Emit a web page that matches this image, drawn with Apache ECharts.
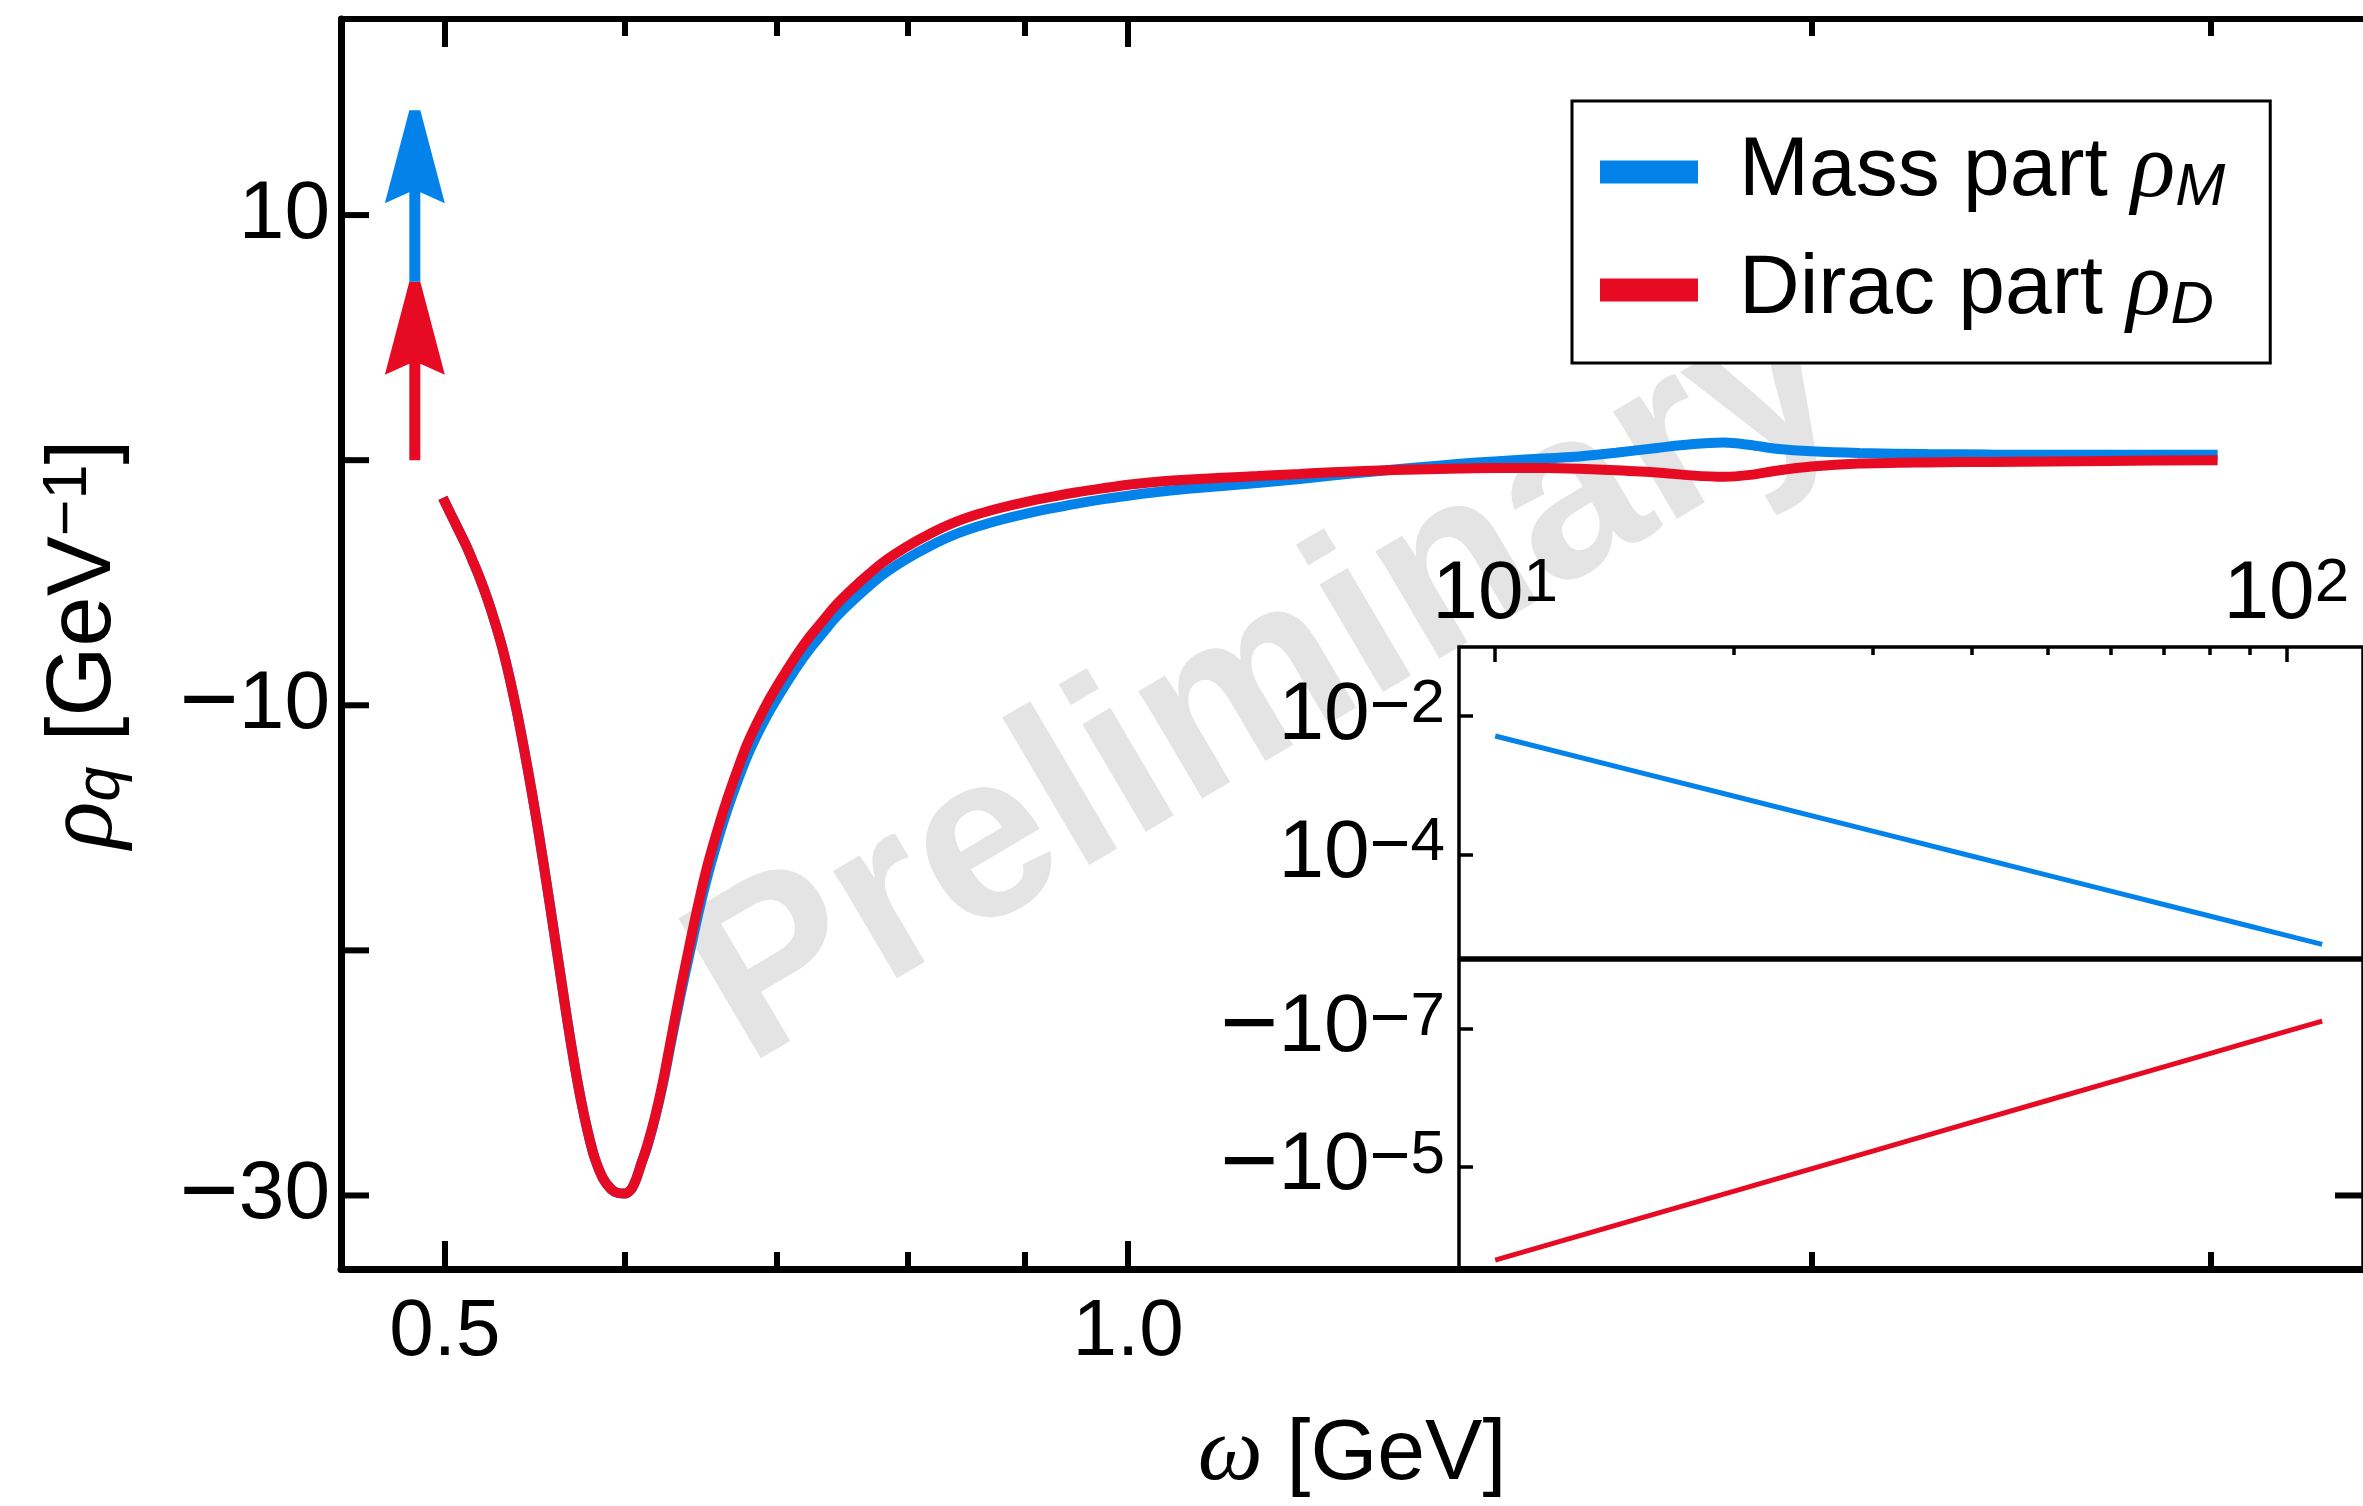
<!DOCTYPE html>
<html><head><meta charset="utf-8">
<script src="https://cdn.jsdelivr.net/npm/echarts@6/dist/echarts.min.js"></script>
<style>html,body{margin:0;padding:0;background:#fff}#c{width:2363px;height:1506px}</style>
</head><body><div id="c"></div>
<script>
// ---------------- data ----------------
const omega = [0.499,0.503,0.507,0.511,0.514,0.518,0.522,0.526,0.530,0.534,
  0.538,0.542,0.546,0.550,0.554,0.558,0.562,0.566,0.570,0.574,
  0.578,0.582,0.587,0.592,0.596,0.600,0.604,0.607,0.610,0.614,
  0.619,0.624,0.629,0.635,0.641,0.647,0.653,0.660,0.666,0.673,
  0.679,0.686,0.693,0.700,0.707,0.715,0.724,0.733,0.742,0.751,
  0.760,0.779,0.798,0.818,0.838,0.859,0.880,0.902,0.925,0.948,
  0.974,1.0,1.03,1.06,1.10,1.14,1.19,1.23,1.28,1.34,
  1.40,1.45,1.53,1.58,1.64,1.71,1.77,1.83,1.88,1.93,
  2.0,2.1,2.25,2.4,2.7,3.02];
const rhoD = [-1.54,-2.2,-2.85,-3.5,-4.05,-4.8,-5.65,-6.6,-7.65,-8.9,
  -10.3,-11.85,-13.5,-15.25,-17.1,-19.0,-20.9,-22.8,-24.55,-26.1,
  -27.4,-28.45,-29.3,-29.75,-29.9,-29.92,-29.75,-29.35,-28.75,-27.95,
  -26.75,-25.3,-23.6,-21.6,-19.75,-18.0,-16.45,-14.95,-13.8,-12.6,
  -11.65,-10.75,-9.95,-9.25,-8.6,-7.9,-7.2,-6.6,-6.0,-5.5,
  -5.05,-4.2,-3.55,-3.0,-2.55,-2.2,-1.93,-1.7,-1.5,-1.32,
  -1.15,-1.0,-0.88,-0.8,-0.72,-0.65,-0.56,-0.49,-0.43,-0.38,
  -0.34,-0.32,-0.32,-0.35,-0.41,-0.5,-0.62,-0.68,-0.6,-0.43,
  -0.26,-0.14,-0.09,-0.07,-0.03,0.0];
const rhoM = [-1.54,-2.2,-2.85,-3.5,-4.05,-4.8,-5.65,-6.6,-7.65,-8.9,
  -10.3,-11.85,-13.5,-15.25,-17.1,-19.0,-20.9,-22.8,-24.55,-26.1,
  -27.4,-28.45,-29.3,-29.75,-29.9,-29.92,-29.75,-29.35,-28.75,-28.0,
  -26.8,-25.4,-23.75,-21.85,-20.1,-18.4,-16.9,-15.4,-14.25,-13.07,
  -12.15,-11.25,-10.45,-9.75,-9.1,-8.4,-7.7,-7.1,-6.5,-6.0,
  -5.55,-4.7,-4.05,-3.5,-3.05,-2.7,-2.42,-2.18,-1.97,-1.78,
  -1.6,-1.45,-1.3,-1.18,-1.05,-0.93,-0.77,-0.63,-0.47,-0.3,
  -0.15,-0.05,0.08,0.15,0.3,0.5,0.65,0.72,0.62,0.47,
  0.36,0.29,0.25,0.23,0.22,0.22];
// delta-peak arrows: [omega, from, to]
const arrowD = [0.485, 0, 7.28];
const arrowM = [0.485, 7.28, 14.28];
// inset (large omega tail)
const tailOmega = [10,11,15,20,30,40,50,60,70,80,90,100,111];
const tailRhoM = [5.15e-3,3.91e-3,1.60e-3,6.98e-4,2.17e-4,9.45e-5,4.97e-5,2.94e-5,1.88e-5,1.28e-5,9.12e-6,6.73e-6,4.98e-6];
const tailRhoD = [-2.28e-4,-1.66e-4,-5.92e-5,-2.28e-5,-5.93e-6,-2.28e-6,-1.087e-6,-5.93e-7,-3.56e-7,-2.28e-7,-1.545e-7,-1.09e-7,-7.70e-8];
// ticks
const xRange = [0.45, 3.5];
const yRange = [-33, 18];
const xMajorTicks = [0.5, 1.0];
const xMajorLabels = ['0.5', '1.0'];
const xMinorTicks = [0.6, 0.7, 0.8, 0.9, 2, 3];
const yTicks = [10, 0, -10, -20, -30];
const yLabels = [10, -10, -30];
const yRightTicks = [-30];
const insetXMajor = [10, 100];
const insetXMinor = [20, 30, 40, 50, 60, 70, 80, 90];
const insetUpperTicks = [1e-2, 1e-4];
const insetLowerTicks = [-1e-7, -1e-5];

// ---------------- layout / style ----------------
const lg = Math.log10;
const SANS = '"Liberation Sans", Arial, Helvetica, sans-serif';
const SERIF = '"Liberation Serif", "Times New Roman", serif';
const BLUE = '#0383EA', RED = '#E60A23';
const L = 341, R = 2373, T = 19, B = 1275;
const IL = 1459, IT1 = 647, IH1 = 311, IT2 = 960, IH2 = 310;
const MINUS = '\u2212';
const TICK_LEN = 28;

const near = (a, b) => Math.abs(a - b) < 1e-6;
const powLabel = v => {
  const e = Math.round(lg(Math.abs(v)));
  return (v < 0 ? '{m|' + MINUS + '}' : '') + '{b|10}' + (e < 0 ? '{q|' + MINUS + '}' : '') + '{p|' + Math.abs(e) + '}';
};
const richPow = {
  m: {fontFamily: SANS, fontSize: 100, lineHeight: 84, color: '#000'},
  b: {fontFamily: SANS, fontSize: 82, lineHeight: 84, color: '#000'},
  q: {fontFamily: SANS, fontSize: 70, lineHeight: 22, verticalAlign: 'top', color: '#000'},
  p: {fontFamily: SANS, fontSize: 62, lineHeight: 30, verticalAlign: 'top', color: '#000'}
};

const chart = echarts.init(document.getElementById('c'), null, {renderer: 'canvas'});

function arrowRender(params, api) {
  const x = api.value(0), y0 = api.value(1), y1 = api.value(2);
  const b = api.coord([x, y0]), t = api.coord([x, y1]);
  const hw = 5.5, HW = 30, HL = 93, NL = 82;
  const cx = t[0], ty = t[1], by = b[1];
  return {
    type: 'polygon',
    shape: {points: [[cx - hw, ty], [cx + hw, ty], [cx + HW, ty + HL], [cx + hw, ty + NL], [cx + hw, by], [cx - hw, by], [cx - hw, ty + NL], [cx - HW, ty + HL]]},
    style: {fill: api.visual('color')}
  };
}
// inward y ticks on the frame edges (dir = +1 from left edge, -1 from right edge)
function yTickRender(dir) {
  return function (params, api) {
    const p = api.coord([api.value(0), api.value(1)]);
    return {type: 'line', shape: {x1: p[0], y1: p[1], x2: p[0] + dir * TICK_LEN, y2: p[1]},
      style: {stroke: '#000', lineWidth: 6}};
  };
}

const axisBase = {
  axisLine: {onZero: false},
  splitLine: {show: false},
  minorTick: {show: false}
};

const option = {
  animation: false,
  backgroundColor: '#fff',
  graphic: [{
    type: 'text', x: 1268, y: 684, rotation: 30.5 * Math.PI / 180, z: -10,
    style: {text: 'Preliminary', fontFamily: SANS, fontWeight: 'bold', fontSize: 236, fill: '#e4e4e4',
      align: 'center', verticalAlign: 'middle', textAlign: 'center', textVerticalAlign: 'middle'}
  }],
  grid: [
    {left: L, top: T, width: R - L, height: B - T},
    {left: IL, top: IT1, width: R - IL, height: IH1, show: true, backgroundColor: '#fff', borderColor: '#000', borderWidth: 3.5},
    {left: IL, top: IT2, width: R - IL, height: IH2, show: true, backgroundColor: '#fff', borderColor: '#000', borderWidth: 3.5}
  ],
  legend: {
    data: ['Mass part ρM', 'Dirac part ρD'],
    orient: 'vertical', left: 1572, top: 101,
    padding: [25, 45, 27, 28],
    itemGap: 26, itemWidth: 98, itemHeight: 23, icon: 'rect',
    borderColor: '#000', borderWidth: 3, backgroundColor: '#fff',
    selectedMode: false,
    formatter: name => {
      const parts = name.split(' ρ');
      return '{t|' + parts[0] + ' }{r|ρ}{s|' + parts[1] + '}';
    },
    textStyle: {
      rich: {
        t: {fontFamily: SANS, fontSize: 84, lineHeight: 92, color: '#000', padding: [0, 0, 0, 36]},
        r: {fontFamily: SERIF, fontStyle: 'italic', fontSize: 92, lineHeight: 92, color: '#000'},
        s: {fontFamily: SANS, fontStyle: 'italic', fontSize: 60, lineHeight: 44, verticalAlign: 'bottom', color: '#000'}
      }
    }
  },
  xAxis: [
    // 0: main bottom, major ticks + labels + title
    Object.assign({}, axisBase, {
      type: 'value', gridIndex: 0, position: 'bottom', min: lg(xRange[0]), max: lg(xRange[1]), z: 6,
      axisLine: {onZero: false, lineStyle: {color: '#000', width: 7}},
      axisTick: {inside: true, length: TICK_LEN, lineStyle: {color: '#000', width: 6}, customValues: xMajorTicks.map(lg)},
      axisLabel: {customValues: xMajorTicks.map(lg), margin: 24, fontFamily: SANS, fontSize: 80, color: '#000',
        formatter: v => xMajorLabels[xMajorTicks.findIndex(t => near(lg(t), v))]},
      name: '{w|ω}{sp| }{t|[GeV]}', nameLocation: 'middle', nameGap: 140,
      nameTextStyle: {rich: {
        w: {fontFamily: SERIF, fontStyle: 'italic', fontSize: 92, lineHeight: 92, color: '#000'},
        sp: {fontFamily: SANS, fontSize: 86, lineHeight: 92},
        t: {fontFamily: SANS, fontSize: 86, lineHeight: 92, color: '#000'}
      }}
    }),
    // 1: main bottom minor ticks
    Object.assign({}, axisBase, {
      type: 'value', gridIndex: 0, position: 'bottom', min: lg(xRange[0]), max: lg(xRange[1]), z: 6,
      axisLine: {show: false, onZero: false},
      axisTick: {inside: true, length: 17, lineStyle: {color: '#000', width: 6}, customValues: xMinorTicks.map(lg)},
      axisLabel: {show: false}
    }),
    // 2: main top major (mirror)
    Object.assign({}, axisBase, {
      type: 'value', gridIndex: 0, position: 'top', min: lg(xRange[0]), max: lg(xRange[1]),
      axisLine: {onZero: false, lineStyle: {color: '#000', width: 6}},
      axisTick: {inside: true, length: TICK_LEN, lineStyle: {color: '#000', width: 6}, customValues: xMajorTicks.map(lg)},
      axisLabel: {show: false}
    }),
    // 3: main top minor (mirror)
    Object.assign({}, axisBase, {
      type: 'value', gridIndex: 0, position: 'top', min: lg(xRange[0]), max: lg(xRange[1]),
      axisLine: {show: false, onZero: false},
      axisTick: {inside: true, length: 17, lineStyle: {color: '#000', width: 6}, customValues: xMinorTicks.map(lg)},
      axisLabel: {show: false}
    }),
    // 4: inset top major
    Object.assign({}, axisBase, {
      type: 'value', gridIndex: 1, position: 'top', min: lg(9), max: lg(125),
      axisLine: {show: false, onZero: false},
      axisTick: {inside: true, length: 15, lineStyle: {color: '#000', width: 3.5}, customValues: insetXMajor.map(lg)},
      axisLabel: {customValues: insetXMajor.map(lg), margin: 10, rich: richPow,
        formatter: v => powLabel(Math.pow(10, v))}
    }),
    // 5: inset top minor
    Object.assign({}, axisBase, {
      type: 'value', gridIndex: 1, position: 'top', min: lg(9), max: lg(125),
      axisLine: {show: false, onZero: false},
      axisTick: {inside: true, length: 8, lineStyle: {color: '#000', width: 3.5}, customValues: insetXMinor.map(lg)},
      axisLabel: {show: false}
    }),
    // 6: inset lower x (hidden)
    Object.assign({}, axisBase, {
      type: 'value', gridIndex: 2, position: 'bottom', min: lg(9), max: lg(125), show: false
    })
  ],
  yAxis: [
    // 0: main left (ticks drawn by the tick series below)
    Object.assign({}, axisBase, {
      type: 'value', gridIndex: 0, position: 'left', min: yRange[0], max: yRange[1],
      axisLine: {onZero: false, lineStyle: {color: '#000', width: 7}},
      axisTick: {show: false},
      axisLabel: {customValues: yLabels, margin: 11, color: '#000',
        formatter: v => (v < 0 ? '{m|' + MINUS + '}' : '') + '{n|' + Math.abs(v) + '}',
        rich: {
          m: {fontFamily: SANS, fontSize: 102, lineHeight: 90, color: '#000'},
          n: {fontFamily: SANS, fontSize: 82, lineHeight: 90, color: '#000'}
        }},
      name: '{r|ρ}{q|q}{sp| }{t|[GeV}{e|' + MINUS + '1}{t|]}', nameLocation: 'middle', nameRotate: 90, nameGap: 208,
      nameTextStyle: {rich: {
        r: {fontFamily: SERIF, fontStyle: 'italic', fontSize: 98, lineHeight: 96, color: '#000'},
        q: {fontFamily: SANS, fontStyle: 'italic', fontSize: 63, lineHeight: 46, verticalAlign: 'bottom', color: '#000'},
        sp: {fontFamily: SANS, fontSize: 90, lineHeight: 96},
        t: {fontFamily: SANS, fontSize: 90, lineHeight: 96, color: '#000'},
        e: {fontFamily: SANS, fontSize: 63, lineHeight: 28, verticalAlign: 'top', color: '#000'}
      }}
    }),
    // 1: inset upper (log10 of rho_M)
    Object.assign({}, axisBase, {
      type: 'value', gridIndex: 1, position: 'left', min: -5.5, max: -1,
      axisLine: {show: false, onZero: false},
      axisTick: {inside: true, length: 14, lineStyle: {color: '#000', width: 3.5}, customValues: insetUpperTicks.map(lg)},
      axisLabel: {customValues: insetUpperTicks.map(lg), margin: 14, rich: richPow,
        formatter: v => powLabel(Math.pow(10, v))}
    }),
    // 2: inset lower (log10 of |rho_D|, inverted)
    Object.assign({}, axisBase, {
      type: 'value', gridIndex: 2, position: 'left', min: -8, max: -3.5, inverse: true,
      axisLine: {show: false, onZero: false},
      axisTick: {inside: true, length: 14, lineStyle: {color: '#000', width: 3.5}, customValues: insetLowerTicks.map(v => lg(-v))},
      axisLabel: {customValues: insetLowerTicks.map(v => lg(-v)), margin: 14, rich: richPow,
        formatter: v => powLabel(-Math.pow(10, v))}
    })
  ],
  series: [
    {name: 'Mass part ρM', type: 'line', xAxisIndex: 0, yAxisIndex: 0, showSymbol: false, smooth: 0.3,
      data: omega.map((w, i) => [lg(w), rhoM[i]]),
      lineStyle: {color: BLUE, width: 10}, itemStyle: {color: BLUE}, z: 3},
    {name: 'Dirac part ρD', type: 'line', xAxisIndex: 0, yAxisIndex: 0, showSymbol: false, smooth: 0.3,
      data: omega.map((w, i) => [lg(w), rhoD[i]]),
      lineStyle: {color: RED, width: 10}, itemStyle: {color: RED}, z: 4},
    {type: 'custom', xAxisIndex: 0, yAxisIndex: 0, renderItem: arrowRender, itemStyle: {color: RED},
      encode: {x: 0, y: [1, 2]}, data: [[lg(arrowD[0]), arrowD[1], arrowD[2]]], z: 4},
    {type: 'custom', xAxisIndex: 0, yAxisIndex: 0, renderItem: arrowRender, itemStyle: {color: BLUE},
      encode: {x: 0, y: [1, 2]}, data: [[lg(arrowM[0]), arrowM[1], arrowM[2]]], z: 4},
    {type: 'custom', xAxisIndex: 0, yAxisIndex: 0, renderItem: yTickRender(1), clip: false, silent: true,
      encode: {x: 0, y: 1}, data: yTicks.map(v => [lg(xRange[0]), v]), z: 8},
    {type: 'custom', xAxisIndex: 0, yAxisIndex: 0, renderItem: yTickRender(-1), clip: false, silent: true,
      encode: {x: 0, y: 1}, data: yRightTicks.map(v => [lg(xRange[1]), v]), z: 8},
    {type: 'line', xAxisIndex: 4, yAxisIndex: 1, showSymbol: false,
      data: tailOmega.map((w, i) => [lg(w), lg(tailRhoM[i])]),
      lineStyle: {color: BLUE, width: 5}, itemStyle: {color: BLUE}, z: 5},
    {type: 'line', xAxisIndex: 6, yAxisIndex: 2, showSymbol: false,
      data: tailOmega.map((w, i) => [lg(w), lg(-tailRhoD[i])]),
      lineStyle: {color: RED, width: 5}, itemStyle: {color: RED}, z: 5}
  ]
};
chart.setOption(option);
</script>
</body></html>
